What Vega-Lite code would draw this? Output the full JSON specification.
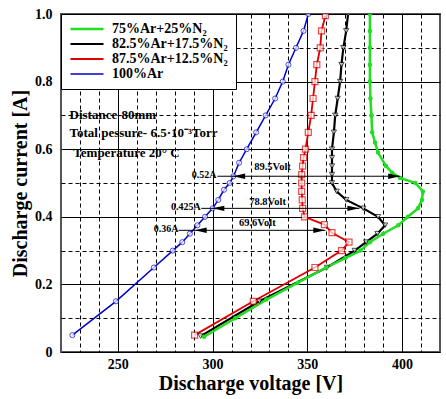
{
  "$schema": "https://vega.github.io/schema/vega-lite/v6.json",
  "width": 379,
  "height": 338,
  "autosize": "none",
  "padding": {"left": 61, "top": 14, "right": 6, "bottom": 47},
  "background": "white",
  "config": {
    "view": {"stroke": "#555555", "strokeWidth": 2},
    "font": "Liberation Serif",
    "axis": {
      "labelFont": "Liberation Serif",
      "labelFontSize": 14,
      "labelFontWeight": "bold",
      "labelColor": "black",
      "titleFont": "Liberation Serif",
      "titleFontSize": 20,
      "titleFontWeight": "bold",
      "titleColor": "black",
      "ticks": false,
      "domain": false,
      "gridColor": "black",
      "gridOpacity": 1
    }
  },
  "datasets": {
    "curves": [
      {"s": "100%Ar", "i": 1, "v": 226, "a": 0.05},
      {"s": "100%Ar", "i": 2, "v": 249, "a": 0.15},
      {"s": "100%Ar", "i": 3, "v": 269, "a": 0.25},
      {"s": "100%Ar", "i": 4, "v": 279, "a": 0.30},
      {"s": "100%Ar", "i": 5, "v": 284, "a": 0.325},
      {"s": "100%Ar", "i": 6, "v": 288, "a": 0.35},
      {"s": "100%Ar", "i": 7, "v": 292, "a": 0.375},
      {"s": "100%Ar", "i": 8, "v": 296, "a": 0.40},
      {"s": "100%Ar", "i": 9, "v": 300, "a": 0.425},
      {"s": "100%Ar", "i": 10, "v": 303, "a": 0.45},
      {"s": "100%Ar", "i": 11, "v": 306, "a": 0.48},
      {"s": "100%Ar", "i": 12, "v": 309, "a": 0.50},
      {"s": "100%Ar", "i": 13, "v": 311, "a": 0.52},
      {"s": "100%Ar", "i": 14, "v": 314, "a": 0.56},
      {"s": "100%Ar", "i": 15, "v": 318, "a": 0.60},
      {"s": "100%Ar", "i": 16, "v": 323, "a": 0.65},
      {"s": "100%Ar", "i": 17, "v": 328, "a": 0.70},
      {"s": "100%Ar", "i": 18, "v": 333, "a": 0.75},
      {"s": "100%Ar", "i": 19, "v": 337, "a": 0.80},
      {"s": "100%Ar", "i": 20, "v": 340, "a": 0.85},
      {"s": "100%Ar", "i": 21, "v": 344, "a": 0.90},
      {"s": "100%Ar", "i": 22, "v": 348, "a": 0.95},
      {"s": "100%Ar", "i": 23, "v": 350.5, "a": 1.0},

      {"s": "87.5%Ar+12.5%N₂", "i": 1, "v": 290.5, "a": 0.05},
      {"s": "87.5%Ar+12.5%N₂", "i": 2, "v": 321.5, "a": 0.15},
      {"s": "87.5%Ar+12.5%N₂", "i": 3, "v": 354, "a": 0.25},
      {"s": "87.5%Ar+12.5%N₂", "i": 4, "v": 368, "a": 0.30},
      {"s": "87.5%Ar+12.5%N₂", "i": 5, "v": 372, "a": 0.325},
      {"s": "87.5%Ar+12.5%N₂", "i": 6, "v": 363, "a": 0.353},
      {"s": "87.5%Ar+12.5%N₂", "i": 7, "v": 359, "a": 0.377},
      {"s": "87.5%Ar+12.5%N₂", "i": 8, "v": 348.5, "a": 0.40},
      {"s": "87.5%Ar+12.5%N₂", "i": 9, "v": 347.5, "a": 0.425},
      {"s": "87.5%Ar+12.5%N₂", "i": 10, "v": 347.3, "a": 0.45},
      {"s": "87.5%Ar+12.5%N₂", "i": 11, "v": 347, "a": 0.475},
      {"s": "87.5%Ar+12.5%N₂", "i": 12, "v": 347, "a": 0.50},
      {"s": "87.5%Ar+12.5%N₂", "i": 13, "v": 347, "a": 0.525},
      {"s": "87.5%Ar+12.5%N₂", "i": 14, "v": 347.5, "a": 0.55},
      {"s": "87.5%Ar+12.5%N₂", "i": 15, "v": 348, "a": 0.575},
      {"s": "87.5%Ar+12.5%N₂", "i": 16, "v": 349, "a": 0.60},
      {"s": "87.5%Ar+12.5%N₂", "i": 17, "v": 350.5, "a": 0.65},
      {"s": "87.5%Ar+12.5%N₂", "i": 18, "v": 352, "a": 0.70},
      {"s": "87.5%Ar+12.5%N₂", "i": 19, "v": 353, "a": 0.75},
      {"s": "87.5%Ar+12.5%N₂", "i": 20, "v": 354, "a": 0.80},
      {"s": "87.5%Ar+12.5%N₂", "i": 21, "v": 355, "a": 0.85},
      {"s": "87.5%Ar+12.5%N₂", "i": 22, "v": 356.8, "a": 0.90},
      {"s": "87.5%Ar+12.5%N₂", "i": 23, "v": 357.5, "a": 0.95},
      {"s": "87.5%Ar+12.5%N₂", "i": 24, "v": 359.5, "a": 0.995},

      {"s": "82.5%Ar+17.5%N₂", "i": 1, "v": 293.7, "a": 0.047},
      {"s": "82.5%Ar+17.5%N₂", "i": 2, "v": 324.7, "a": 0.15},
      {"s": "82.5%Ar+17.5%N₂", "i": 3, "v": 360.3, "a": 0.25},
      {"s": "82.5%Ar+17.5%N₂", "i": 4, "v": 375, "a": 0.30},
      {"s": "82.5%Ar+17.5%N₂", "i": 5, "v": 381, "a": 0.325},
      {"s": "82.5%Ar+17.5%N₂", "i": 6, "v": 387, "a": 0.35},
      {"s": "82.5%Ar+17.5%N₂", "i": 7, "v": 391, "a": 0.375},
      {"s": "82.5%Ar+17.5%N₂", "i": 8, "v": 387.3, "a": 0.40},
      {"s": "82.5%Ar+17.5%N₂", "i": 9, "v": 379.5, "a": 0.425},
      {"s": "82.5%Ar+17.5%N₂", "i": 10, "v": 370.5, "a": 0.45},
      {"s": "82.5%Ar+17.5%N₂", "i": 11, "v": 365.5, "a": 0.475},
      {"s": "82.5%Ar+17.5%N₂", "i": 12, "v": 363, "a": 0.50},
      {"s": "82.5%Ar+17.5%N₂", "i": 13, "v": 363, "a": 0.525},
      {"s": "82.5%Ar+17.5%N₂", "i": 14, "v": 363, "a": 0.55},
      {"s": "82.5%Ar+17.5%N₂", "i": 15, "v": 363, "a": 0.575},
      {"s": "82.5%Ar+17.5%N₂", "i": 16, "v": 363, "a": 0.60},
      {"s": "82.5%Ar+17.5%N₂", "i": 17, "v": 364, "a": 0.65},
      {"s": "82.5%Ar+17.5%N₂", "i": 18, "v": 364.7, "a": 0.70},
      {"s": "82.5%Ar+17.5%N₂", "i": 19, "v": 366, "a": 0.75},
      {"s": "82.5%Ar+17.5%N₂", "i": 20, "v": 367.3, "a": 0.80},
      {"s": "82.5%Ar+17.5%N₂", "i": 21, "v": 368, "a": 0.85},
      {"s": "82.5%Ar+17.5%N₂", "i": 22, "v": 369, "a": 0.90},
      {"s": "82.5%Ar+17.5%N₂", "i": 23, "v": 370.5, "a": 0.95},
      {"s": "82.5%Ar+17.5%N₂", "i": 24, "v": 371.5, "a": 1.0},

      {"s": "75%Ar+25%N₂", "i": 1, "v": 295.5, "a": 0.045},
      {"s": "75%Ar+25%N₂", "i": 2, "v": 312, "a": 0.10},
      {"s": "75%Ar+25%N₂", "i": 3, "v": 328.4, "a": 0.155},
      {"s": "75%Ar+25%N₂", "i": 4, "v": 345, "a": 0.205},
      {"s": "75%Ar+25%N₂", "i": 5, "v": 360, "a": 0.25},
      {"s": "75%Ar+25%N₂", "i": 6, "v": 370, "a": 0.278},
      {"s": "75%Ar+25%N₂", "i": 7, "v": 378, "a": 0.30},
      {"s": "75%Ar+25%N₂", "i": 8, "v": 383, "a": 0.325},
      {"s": "75%Ar+25%N₂", "i": 9, "v": 390, "a": 0.35},
      {"s": "75%Ar+25%N₂", "i": 10, "v": 398, "a": 0.375},
      {"s": "75%Ar+25%N₂", "i": 11, "v": 403, "a": 0.40},
      {"s": "75%Ar+25%N₂", "i": 12, "v": 408.4, "a": 0.425},
      {"s": "75%Ar+25%N₂", "i": 13, "v": 410.5, "a": 0.45},
      {"s": "75%Ar+25%N₂", "i": 14, "v": 411, "a": 0.475},
      {"s": "75%Ar+25%N₂", "i": 15, "v": 407, "a": 0.50},
      {"s": "75%Ar+25%N₂", "i": 16, "v": 399, "a": 0.515},
      {"s": "75%Ar+25%N₂", "i": 17, "v": 394.7, "a": 0.53},
      {"s": "75%Ar+25%N₂", "i": 18, "v": 391.5, "a": 0.55},
      {"s": "75%Ar+25%N₂", "i": 19, "v": 387.3, "a": 0.59},
      {"s": "75%Ar+25%N₂", "i": 20, "v": 385.7, "a": 0.62},
      {"s": "75%Ar+25%N₂", "i": 21, "v": 384.2, "a": 0.65},
      {"s": "75%Ar+25%N₂", "i": 22, "v": 383.8, "a": 0.70},
      {"s": "75%Ar+25%N₂", "i": 23, "v": 383.3, "a": 0.75},
      {"s": "75%Ar+25%N₂", "i": 24, "v": 383, "a": 0.80},
      {"s": "75%Ar+25%N₂", "i": 25, "v": 383, "a": 0.85},
      {"s": "75%Ar+25%N₂", "i": 26, "v": 383, "a": 0.90},
      {"s": "75%Ar+25%N₂", "i": 27, "v": 383, "a": 0.95},
      {"s": "75%Ar+25%N₂", "i": 28, "v": 383, "a": 1.0}
    ],
    "arrows": [
      {"a": 0.52, "v": 302.5, "v2": 399},
      {"a": 0.425, "v": 294, "v2": 377.5},
      {"a": 0.36, "v": 282, "v2": 359.5}
    ],
    "heads": [
      {"a": 0.52, "v": 314, "d": "L"},
      {"a": 0.52, "v": 395.8, "d": "R"},
      {"a": 0.425, "v": 303, "d": "L"},
      {"a": 0.425, "v": 374.3, "d": "R"},
      {"a": 0.36, "v": 293.7, "d": "L"},
      {"a": 0.36, "v": 356.3, "d": "R"}
    ],
    "info": [
      {"v": 224.5, "a": 0.70, "t": "Distance-80mm"},
      {"v": 224.5, "a": 0.648, "t": "Total pessure- 6.5·10⁻³Torr"},
      {"v": 226.5, "a": 0.589, "t": "Temperature 20° C"}
    ],
    "amps": [
      {"v": 302, "a": 0.52, "t": "0.52A"},
      {"v": 293.7, "a": 0.425, "t": "0.425A"},
      {"v": 282, "a": 0.36, "t": "0.36A"}
    ],
    "volts": [
      {"v": 331.6, "a": 0.547, "t": "89.5Volt"},
      {"v": 329, "a": 0.444, "t": "78.8Volt"},
      {"v": 323.6, "a": 0.382, "t": "69.6Volt"}
    ]
  },
  "encoding": {
    "x": {
      "field": "v", "type": "quantitative",
      "scale": {"domain": [220, 420], "nice": false, "zero": false},
      "axis": {
        "title": "Discharge voltage [V]",
        "values": [230, 240, 250, 260, 270, 280, 290, 300, 310, 320, 330, 340, 350, 360, 370, 380, 390, 400, 410],
        "labelExpr": "datum.value % 50 === 0 ? datum.label : ''",
        "labelOverlap": false,
        "gridDash": {"condition": {"test": "datum.value % 50 === 0", "value": []}, "value": [4, 3]},
        "labelPadding": 5,
        "titlePadding": 2
      }
    },
    "y": {
      "field": "a", "type": "quantitative",
      "scale": {"domain": [0, 1], "nice": false},
      "axis": {
        "title": "Discharge current [A]",
        "values": [0, 0.1, 0.2, 0.3, 0.4, 0.5, 0.6, 0.7, 0.8, 0.9, 1.0],
        "labelExpr": "round(datum.value*10) % 2 === 0 ? (datum.value === 0 ? '0' : format(datum.value, '.1f')) : ''",
        "labelOverlap": false,
        "gridDash": {"condition": {"test": "round(datum.value*10) % 2 === 0", "value": []}, "value": [4, 3]},
        "labelPadding": 9,
        "titlePadding": 4
      }
    }
  },
  "layer": [
    {
      "data": {"name": "curves"},
      "mark": {"type": "line", "clip": true},
      "encoding": {
        "order": {"field": "i", "type": "quantitative"},
        "color": {
          "field": "s", "type": "nominal",
          "scale": {
            "domain": ["75%Ar+25%N₂", "82.5%Ar+17.5%N₂", "87.5%Ar+12.5%N₂", "100%Ar"],
            "range": ["#22dd22", "#000000", "#e00000", "#0000cc"]
          },
          "legend": {
            "orient": "none", "legendX": 0, "legendY": 0,
            "title": null,
            "symbolType": "stroke", "symbolSize": 1089, "symbolStrokeWidth": 2,
            "clipHeight": 14,
            "labelFont": "Liberation Serif", "labelFontSize": 14, "labelFontWeight": "bold",
            "labelColor": "black", "labelLimit": 300, "labelOffset": 7,
            "fillColor": "white", "strokeColor": "black",
            "padding": 8, "rowPadding": 1
          }
        },
        "strokeWidth": {
          "field": "s", "type": "ordinal",
          "scale": {
            "domain": ["75%Ar+25%N₂", "82.5%Ar+17.5%N₂", "87.5%Ar+12.5%N₂", "100%Ar"],
            "range": [2.5, 1.5, 1.5, 1.5]
          },
          "legend": null
        }
      }
    },
    {
      "data": {"name": "curves"},
      "transform": [{"filter": "datum.s === '100%Ar'"}],
      "mark": {"type": "point", "shape": "circle", "size": 26, "filled": true, "fill": "white", "stroke": "#0000cc", "strokeWidth": 1, "clip": true}
    },
    {
      "data": {"name": "curves"},
      "transform": [{"filter": "datum.s === '87.5%Ar+12.5%N₂'"}],
      "mark": {"type": "point", "shape": "square", "size": 36, "filled": true, "fill": "white", "stroke": "#e00000", "strokeWidth": 1.2, "clip": true}
    },
    {
      "data": {"name": "curves"},
      "transform": [{"filter": "datum.s === '82.5%Ar+17.5%N₂'"}],
      "mark": {"type": "point", "shape": "triangle-down", "size": 28, "filled": true, "fill": "white", "stroke": "#000000", "strokeWidth": 1, "clip": true}
    },
    {
      "data": {"name": "curves"},
      "transform": [{"filter": "datum.s === '75%Ar+25%N₂'"}],
      "mark": {"type": "circle", "size": 20, "color": "#22dd22", "opacity": 1, "clip": true}
    },
    {
      "data": {"name": "arrows"},
      "mark": {"type": "rule", "color": "black", "strokeWidth": 1},
      "encoding": {
        "x2": {"field": "v2"}
      }
    },
    {
      "data": {"name": "heads"},
      "mark": {"type": "point", "filled": true, "color": "black", "size": 144, "opacity": 1},
      "encoding": {
        "shape": {
          "field": "d", "type": "nominal",
          "scale": {"domain": ["L", "R"], "range": ["M-1,0L1,-0.45L1,0.45Z", "M1,0L-1,-0.45L-1,0.45Z"]},
          "legend": null
        }
      }
    },
    {
      "data": {"name": "info"},
      "mark": {"type": "text", "align": "left", "baseline": "middle", "font": "Liberation Serif", "fontSize": 13, "fontWeight": "bold", "color": "black"},
      "encoding": {
        "text": {"field": "t", "type": "nominal"}
      }
    },
    {
      "data": {"name": "amps"},
      "mark": {"type": "text", "align": "right", "baseline": "middle", "dy": -1, "font": "Liberation Serif", "fontSize": 10, "fontWeight": "bold", "color": "black"},
      "encoding": {
        "text": {"field": "t", "type": "nominal"}
      }
    },
    {
      "data": {"name": "volts"},
      "mark": {"type": "text", "align": "center", "baseline": "middle", "font": "Liberation Serif", "fontSize": 10.5, "fontWeight": "bold", "color": "black"},
      "encoding": {
        "text": {"field": "t", "type": "nominal"}
      }
    }
  ]
}
